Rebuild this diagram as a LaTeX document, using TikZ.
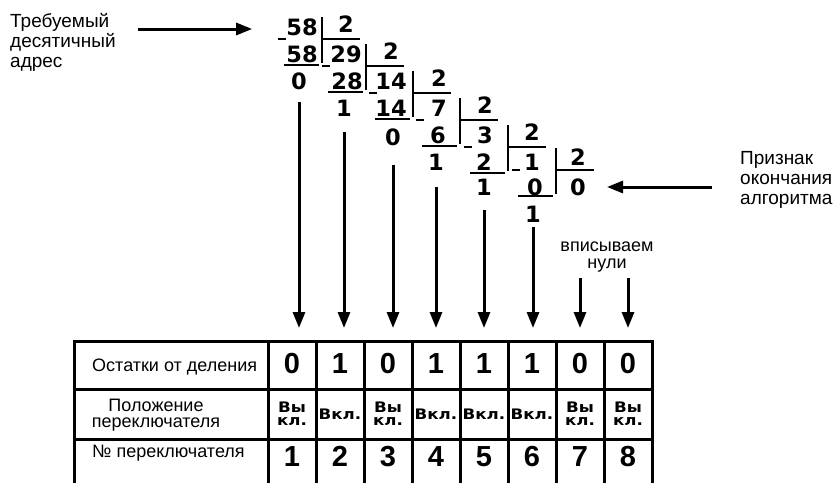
\documentclass[tikz,border=0pt]{standalone}
\usepackage{fontspec}
\setmainfont{Liberation Sans}
\newfontfamily\heavy{DejaVu Sans Bold}
\newfontfamily\heavywide[FakeStretch=1.15]{DejaVu Sans Bold}
\usetikzlibrary{arrows.meta}

\begin{document}
\begin{tikzpicture}[x=1pt,y=-1pt,
  cifra/.style={inner sep=0pt,font=\heavy\fontsize{22.5}{22.5}\selectfont},
  yach/.style={inner sep=0pt,anchor=base,font=\bfseries\fontsize{29}{29}\selectfont},
  vykl/.style={inner sep=0pt,align=center,font=\heavywide\fontsize{14.5}{13}\selectfont},
  tekst/.style={inner sep=0pt,align=left,font=\fontsize{19}{20}\selectfont},
  podpis/.style={inner sep=0pt,font=\fontsize{18}{16.5}\selectfont},
  liniya/.style={line width=2.5pt},
  setka/.style={line width=3pt},
  strelka/.style={line width=3pt,-{Triangle[length=16pt,width=12pt]}}]
\useasboundingbox (0,0) rectangle (838,482);

% delimoe i chastnye
\node[cifra] (d1) at (302,27) {58};
\node[cifra] (d2) at (346,54) {29};
\node[cifra] (d3) at (391,81) {14};
\node[cifra] (d4) at (439,108) {7};
\node[cifra] (d5) at (485,135) {3};
\node[cifra] (d6) at (532,162) {1};
\node[cifra] (d7) at (578,187) {0};
% delitel
\node[cifra] (v1) at (346,24) {2};
\node[cifra] (v2) at (391,51) {2};
\node[cifra] (v3) at (439,78) {2};
\node[cifra] (v4) at (485,105) {2};
\node[cifra] (v5) at (532,132) {2};
\node[cifra] (v6) at (578,157) {2};
% vychitaemoe
\node[cifra] (s1) at (302,54) {58};
\node[cifra] (s2) at (347,81) {28};
\node[cifra] (s3) at (391,108) {14};
\node[cifra] (s4) at (438,135) {6};
\node[cifra] (s5) at (484,162) {2};
\node[cifra] (s6) at (535,187) {0};
% ostatki
\node[cifra] (r1) at (299,81) {0};
\node[cifra] (r2) at (344,108) {1};
\node[cifra] (r3) at (393,137) {0};
\node[cifra] (r4) at (436,162) {1};
\node[cifra] (r5) at (484,187) {1};
\node[cifra] (r6) at (533,214) {1};

\foreach \b/\y in {322/27,366/54,413/81,460/108,508/135,556/158}{
  \draw[liniya] (\b,\y-10) -- (\b,\y+36);
  \draw[liniya] (\b,\y+12) -- (\b+38,\y+12);
  \draw[liniya] (\b-38,\y+38) -- (\b-3,\y+38);
  \draw[liniya] (\b-44,\y+12) -- (\b-36,\y+12);
}

\node[tekst,anchor=west] (adres) at (10,42) {Требуемый\\десятичный\\адрес};
\node[tekst,anchor=west] (priznak) at (740,180) {Признак\\окончания\\алгоритма};
\node[podpis,align=center] (nuli) at (607,257) {вписываем\\нули};

% tablica
\draw[setka] (74,490) |- (652,341) -- (652,490);
\draw[setka] (74,389) -- (652,389);
\draw[setka] (74,439) -- (652,439);
\foreach \x in {268,316,...,604}
  \draw[setka] (\x,341) -- (\x,490);

\node[podpis,anchor=base west] (l1) at (92,371) {Остатки от деления};
\node[podpis,align=center] (l2) at (156,415) {Положение\\переключателя};
\node[podpis,anchor=base west] (l3) at (92,457) {№ переключателя};

\foreach \v [count=\i] in {0,1,0,1,1,1,0,0}
  \node[yach] (o\i) at (244+48*\i,373) {\v};
\foreach \v [count=\i] in {{Вы\\кл.},{Вкл.},{Вы\\кл.},{Вкл.},{Вкл.},{Вкл.},{Вы\\кл.},{Вы\\кл.}}
  \node[vykl] (p\i) at (244+48*\i,414) {\v};
\foreach \i in {1,...,8}
  \node[yach] (n\i) at (244+48*\i,466) {\i};

% strelki
\coordinate (verh) at (0,328);
\coordinate (nachalo) at (0,278);
\foreach \k/\g in {1/12,2/16,3/19,4/17,5/15,6/5}
  \draw[strelka] ([yshift=-\g pt]r\k.south) -- (r\k |- verh);
\draw[strelka] (o7 |- nachalo) -- (o7 |- verh);
\draw[strelka] (o8 |- nachalo) -- (o8 |- verh);
\draw[strelka] (adres.east |- d1) ++(22,2) -- ([xshift=-34pt,yshift=-2pt]d1.west);
\draw[strelka] (priznak.west |- d7) ++(-28,0) -- ([xshift=21pt]d7.east);
\end{tikzpicture}
\end{document}
